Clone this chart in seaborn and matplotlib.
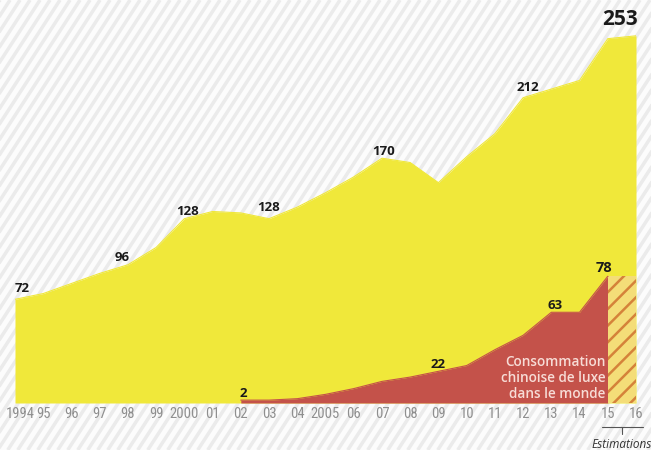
import numpy as np
import pandas as pd
import matplotlib
matplotlib.use("Agg")
import matplotlib.pyplot as plt
import seaborn as sns
from matplotlib.collections import LineCollection
from matplotlib.transforms import IdentityTransform, ScaledTranslation
from matplotlib import font_manager as fm

# ---------------- data ----------------
years = list(range(1994, 2017))
tick_labels = ["1994", "95", "96", "97", "98", "99", "2000", "01", "02", "03", "04",
               "2005", "06", "07", "08", "09", "10", "11", "12", "13", "14", "15", "16"]
world = [72, 76, 83, 90, 96, 108, 128, 133, 132, 128, 136, 146, 157, 170, 167, 153,
         171, 187, 212, 218, 224, 253, 255]
china_years = list(range(2002, 2016))
china = [2, 2, 3, 6, 10, 15, 18, 22, 26, 37, 47, 63, 63, 88]
estimate_years = [2015, 2016]
world_label_years = [1994, 1998, 2000, 2003, 2007, 2012, 2015]
china_label_years = [2002, 2009, 2013, 2015]
china_label_text = ["2", "22", "63", "78"]
legend_text = "Consommation\nchinoise de luxe\ndans le monde"
estim_text = "Estimations"

# ---------------- style ----------------
sns.set_theme(style="white")
names = {f.name for f in fm.fontManager.ttflist}
def pick(cands):
    for c in cands:
        if c in names:
            return c
    return "DejaVu Sans"
narrow = pick(["Liberation Sans Narrow", "Roboto Condensed", "Open Sans Condensed",
               "DejaVu Sans Condensed", "Noto Sans", "DejaVu Sans"])
humanist = pick(["Open Sans", "Noto Sans", "Lato", "DejaVu Sans"])
plt.rcParams["font.family"] = [humanist, "DejaVu Sans"]
plt.rcParams["hatch.linewidth"] = 1.8

YELLOW = "#F0E83A"
RED = "#C4524A"
W, H = 651, 450
PX_PER_UNIT = 1.44
BASE = 403

fig = plt.figure(figsize=(W / 100, H / 100), dpi=100)
fig.patch.set_facecolor("#fcfcfc")

# background diagonal stripes
ang = np.deg2rad(57)
dx = H / np.tan(ang)
segs = [[(x0, 0), (x0 + dx, H)] for x0 in np.arange(-dx - 20, W + 20, 10)]
lc = LineCollection(segs, colors="#ebebeb", linewidths=2.5,
                    transform=IdentityTransform(), zorder=-10)
fig.add_artist(lc)

ax = fig.add_axes([15 / W, (H - BASE) / H, 621 / W, BASE / H])
ax.set_facecolor("none")

df_w = pd.DataFrame({"year": years, "value": world})
df_c = pd.DataFrame({"year": china_years, "value": china})

ax.fill_between(df_w["year"], 0, df_w["value"], color=YELLOW, linewidth=0, zorder=1)
sns.lineplot(data=df_w, x="year", y="value", color=YELLOW, linewidth=0.8, ax=ax, zorder=1)
ax.fill_between(df_c["year"], 0, df_c["value"], color=RED, linewidth=0, zorder=2)
sns.lineplot(data=df_c, x="year", y="value", color=RED, linewidth=0.8, ax=ax, zorder=2)

est_val = china[-1]
ax.fill_between(estimate_years, 0, [est_val, est_val], facecolor="#F4DD78",
                edgecolor="#D5823A", hatch="//", linewidth=0, zorder=3)

ax.set_xlim(1994, 2016)
ax.set_ylim(0, BASE / PX_PER_UNIT)
ax.set_xlabel("")
ax.set_ylabel("")
ax.set_yticks([])
ax.set_xticks(years)
ax.set_xticklabels(tick_labels, fontfamily=narrow)
ax.tick_params(axis="x", length=0, pad=3, labelsize=10.5, labelcolor="#8f8f8f")
for s in ax.spines.values():
    s.set_visible(False)
first = ax.get_xticklabels()[0]
first.set_transform(first.get_transform() + ScaledTranslation(5 / 100, 0, fig.dpi_scale_trans))

# value labels
w_offsets = {1994: (5, 8), 1998: (-4, 5), 2000: (2, 5), 2003: (0, 8),
             2007: (1.5, 4.5), 2012: (3.5, 7), 2015: (9, 14)}
for yr in world_label_years:
    v = world[years.index(yr)]
    big = yr == 2015
    ax.annotate(str(v), (yr, v), xytext=w_offsets[yr], textcoords="offset points",
                ha="center", va="center", fontsize=15 if big else 9.5,
                fontweight="bold", color="#1a1a1a", annotation_clip=False, zorder=5)

c_offsets = {2002: (2, 4.5), 2009: (0, 5), 2013: (3, 5), 2015: (-3, 6)}
for yr, txt in zip(china_label_years, china_label_text):
    v = china[china_years.index(yr)]
    ax.annotate(txt, (yr, v), xytext=c_offsets[yr], textcoords="offset points",
                ha="center", va="center", fontsize=10.5 if yr == 2015 else 9.5,
                fontweight="bold", color="#1a1a1a", annotation_clip=False, zorder=5)

# legend text inside red area
ax.text(2014.92, (BASE - 378) / PX_PER_UNIT, legend_text, ha="right", va="center",
        fontsize=9.8, fontweight="semibold", color="#F7DCD6", linespacing=1.2, zorder=6)

# estimations bracket
yl = -(427 - BASE) / PX_PER_UNIT
yt = -(434 - BASE) / PX_PER_UNIT
ax.plot([2014.79, 2016.25], [yl, yl], color="#555555", lw=0.8, clip_on=False)
ax.plot([2015.5, 2015.5], [yl, yt], color="#555555", lw=0.8, clip_on=False)
ax.text(2015.5, -(444 - BASE) / PX_PER_UNIT, estim_text, ha="center", va="center",
        fontsize=8.5, fontstyle="italic", color="#333333", clip_on=False)

fig.savefig("out.png", dpi=100)
